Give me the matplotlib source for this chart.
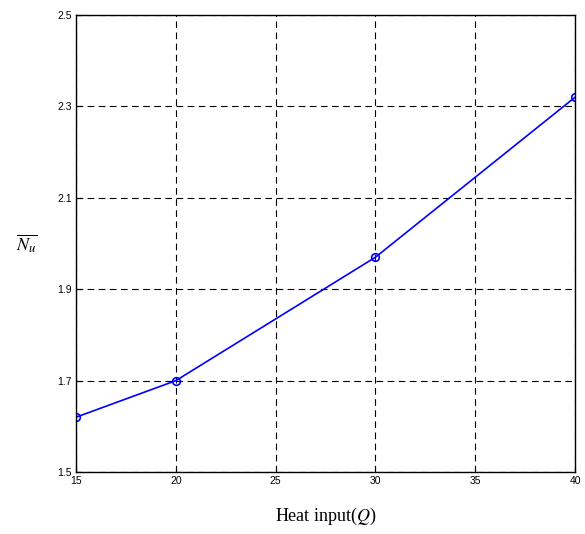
import matplotlib
matplotlib.use("Agg")
import matplotlib.pyplot as plt

# heat input vs average Nusselt number
heat_input = [15, 20, 30, 40]
nu_avg = [1.62, 1.70, 1.97, 2.32]

x_ticks = [15, 20, 25, 30, 35, 40]
y_ticks = [1.5, 1.7, 1.9, 2.1, 2.3, 2.5]

plt.rcParams['mathtext.fontset'] = 'stix'

fig = plt.figure(figsize=(5.85, 5.34), dpi=100)
ax = fig.add_axes([0.130, 0.116, 0.853, 0.856])

ax.plot(heat_input, nu_avg, color='blue', lw=1.2, marker='o', ms=5.5,
        mfc='none', mec='blue', mew=1.2)

ax.set_xlim(15, 40)
ax.set_ylim(1.5, 2.5)
ax.set_xticks(x_ticks)
ax.set_yticks(y_ticks)
ax.set_xticklabels([str(t) for t in x_ticks], family='Liberation Sans', fontsize=7.5)
ax.set_yticklabels([f"{t:.1f}" for t in y_ticks], family='Liberation Sans', fontsize=7.5)
ax.tick_params(direction='in', length=4, width=0.8, pad=3)

ax.grid(True, color='black', linestyle=(0, (6, 4)), linewidth=0.8)
for s in ax.spines.values():
    s.set_linewidth(1.0)

ax.set_xlabel('Heat input($Q$)', family='Liberation Serif', fontsize=13, labelpad=14)
ax.set_ylabel(r'$\overline{N_u}$', fontsize=13, rotation=0, labelpad=22, va='center')

fig.savefig('out.png', dpi=100)
